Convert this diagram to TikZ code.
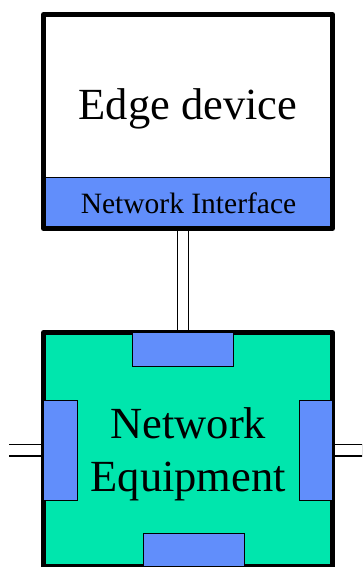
\documentclass[tikz,border=0pt]{standalone}
\usepackage{fontspec}
\setmainfont{Liberation Serif}
\definecolor{portblue}{RGB}{97,142,251}
\definecolor{equipgreen}{RGB}{0,230,173}
\begin{document}
\begin{tikzpicture}[x=1pt,y=-1pt,
  framebox/.style={draw, rectangle, line width=5pt, line join=round, inner sep=0pt},
  portbox/.style={draw, rectangle, fill=portblue, line width=0.9pt, inner sep=0pt},
  link/.style={draw, double, double distance=10pt, line width=1.3pt},
  bigtext/.style={anchor=base, inner sep=0pt, font=\fontsize{44.5}{53.5}\selectfont},
  smalltext/.style={anchor=base, inner sep=0pt, font=\fontsize{29.5}{35}\selectfont}]
\path[use as bounding box] (0,0) rectangle (362,567);
\clip (0,0) rectangle (362,567);

% Edge device with its network interface strip
\node[portbox, minimum width=289pt, minimum height=51.5pt] (iface) at (188,202.75) {};
\node[framebox, minimum width=289pt, minimum height=214pt] (edge) at (188,121.5) {};
\node[bigtext] (edgelabel) at (188,120) {Edge device};
\node[smalltext] (ifacelabel) at (188.5,213) {Network Interface};

% Network equipment with four ports
\node[framebox, fill=equipgreen, minimum width=289pt, minimum height=233.5pt] (equip) at (188,449.25) {};
\node[portbox, minimum width=100.6pt, minimum height=34.2pt] (ptop) at (183,349.6) {};
\node[portbox, minimum width=33.5pt, minimum height=100.7pt] (pleft) at (60.25,450.35) {};
\node[portbox, minimum width=33.5pt, minimum height=100.7pt] (pright) at (315.75,450.35) {};
\node[portbox, minimum width=101pt, minimum height=32.3pt] (pbottom) at (193.8,549.85) {};
\node[bigtext] (eqline1) at (188.3,438) {Network};
\node[bigtext] (eqline2) at (188.3,491.7) {Equipment};

% Links
\coordinate (lfree) at (9,450.35);
\coordinate (rfree) at (370,450.35);
\draw[link] (edge.south -| ptop.north) -- (equip.north -| ptop.north);
\draw[link] (lfree) -- (equip.west |- pleft.west);
\draw[link] (equip.east |- pright.east) -- (rfree);
\end{tikzpicture}
\end{document}
